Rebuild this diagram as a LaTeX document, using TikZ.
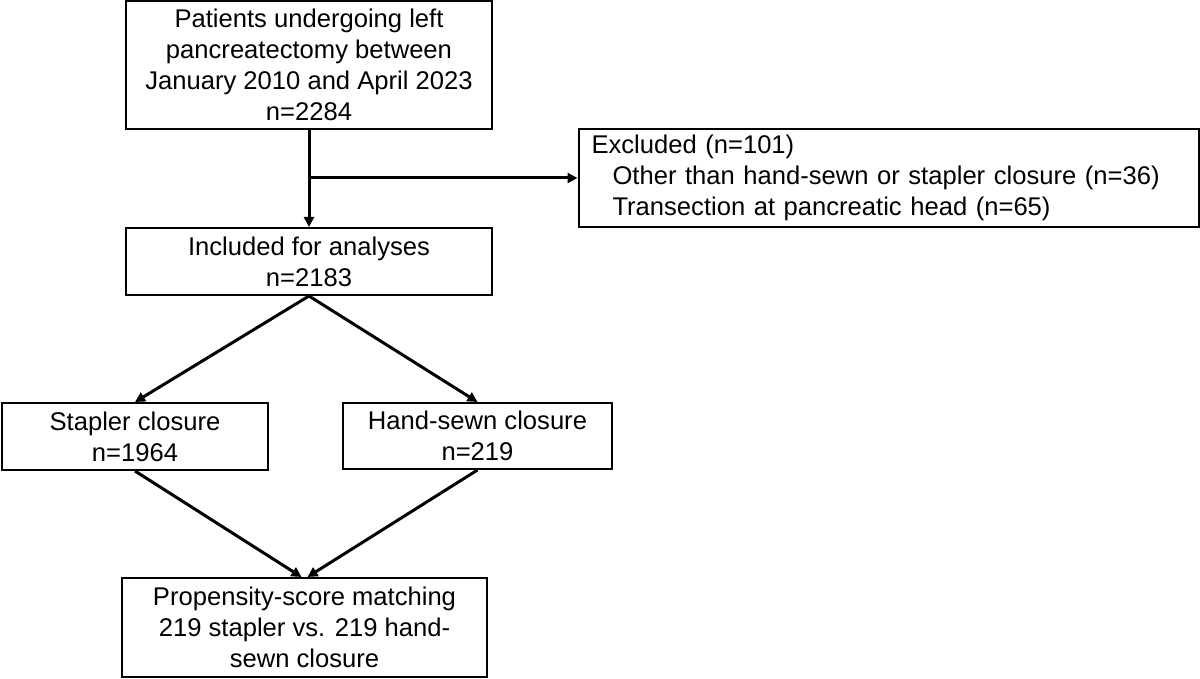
\documentclass[tikz,border=0pt]{standalone}
\usepackage{fontspec}
\setmainfont{Liberation Sans}
\usetikzlibrary{positioning, arrows.meta, calc}
\tikzset{
  box/.style={draw, line width=1pt, align=center, font=\fontsize{12.8pt}{15.5pt}\selectfont, inner sep=0pt},
  leftbox/.style={box, align=left, inner xsep=6.5pt},
  arr/.style={-{Triangle[length=5pt, width=5pt]}, line width=1.5pt}
}

\begin{document}
\begin{tikzpicture}[x=0.5pt, y=-0.5pt]
  \useasboundingbox (0,0) rectangle (1200,679);

  \node[box, minimum width=183pt, minimum height=64pt] (pat) at (309,65) {Patients undergoing left\\pancreatectomy between\\January 2010 and April 2023\\n=2284};
  \node[leftbox, text width=297pt, minimum height=49pt] (excl) at (888.5,178) {Excluded (n=101)\\\hspace*{10.5pt}Other than hand-sewn or stapler closure (n=36)\\\hspace*{10.5pt}Transection at pancreatic head (n=65)};
  \node[box, minimum width=183pt, minimum height=33.5pt] (incl) at (309,261.5) {Included for analyses\\n=2183};

  \node[box, minimum width=133pt, minimum height=33.5pt] (stap) at (135,436.5) {Stapler closure\\n=1964};
  \node[box, minimum width=134.5pt, minimum height=33pt] (hand) at (477.5,436) {Hand-sewn closure\\n=219};

  \node[box, minimum width=182.5pt, minimum height=49.5pt] (psm) at (304.5,627.5) {Propensity-score matching\\219 stapler vs. 219 hand-\\sewn closure};

  \draw[arr] (pat) -- (incl);
  \draw[arr] (pat.south |- excl.west) -- (excl.west);
  \draw[arr] (incl.south) -- (stap.north);
  \draw[arr] (incl.south) -- (hand.north);
  \draw[arr] (stap.south) -- ([xshift=-1.5pt]psm.north);
  \draw[arr] (hand.south) -- ([xshift=1.5pt]psm.north);
\end{tikzpicture}
\end{document}
